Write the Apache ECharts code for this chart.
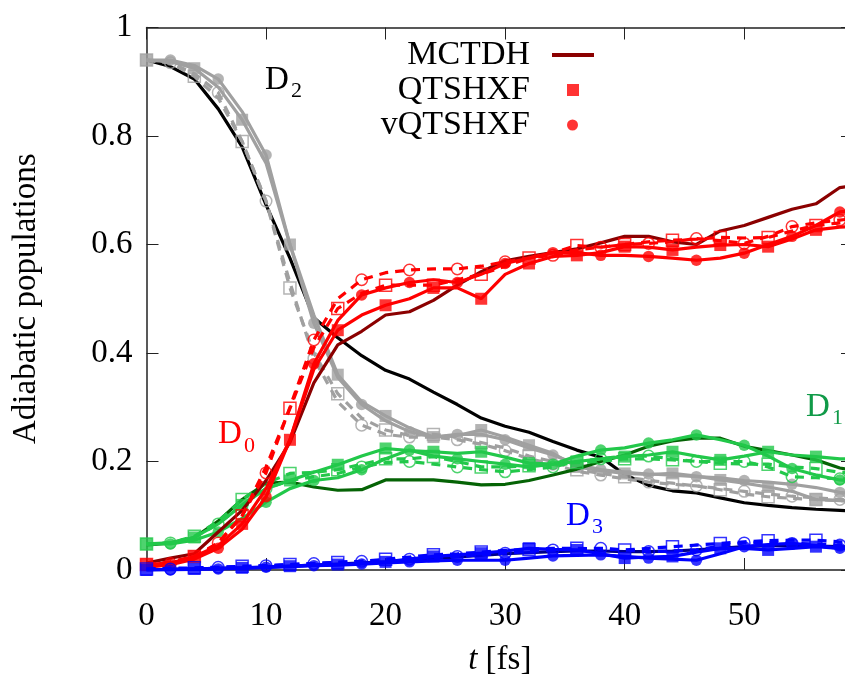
<!DOCTYPE html>
<html><head><meta charset="utf-8">
<script src="https://cdn.jsdelivr.net/npm/echarts@6/dist/echarts.min.js"></script>
<style>html,body{margin:0;padding:0;background:#fff;overflow:hidden}#c{width:845px;height:674px}</style>
</head><body><div id="c"></div>
<script>
// time grid (fs)
const T = [0,2,4,6,8,10,12,14,16,18,20,22,24,26,28,30,32,34,36,38,40,42,44,46,48,50,52,54,56,58,60];
const xTicks = [0,10,20,30,40,50];
const yTicks = [0,0.2,0.4,0.6,0.8,1];

// D2
const d2_mctdh = [.94,.928,.905,.85,.78,.673,.575,.465,.428,.395,.368,.352,.328,.305,.28,.265,.254,.237,.221,.208,.176,.156,.146,.142,.133,.124,.119,.115,.112,.11,.108];
const d2_qtsh  = [.94,.937,.925,.89,.83,.75,.60,.47,.36,.31,.284,.262,.245,.248,.258,.245,.23,.215,.19,.183,.178,.176,.178,.173,.166,.16,.153,.145,.13,.128,.125];
const d2_vqtsh = [.94,.94,.93,.905,.845,.765,.6,.455,.355,.305,.275,.255,.245,.25,.25,.24,.225,.212,.195,.185,.18,.177,.175,.172,.17,.165,.162,.158,.152,.143,.14];
const d2_qtsh_b  = [.94,.935,.91,.87,.79,.68,.52,.40,.325,.28,.258,.248,.25,.245,.235,.225,.21,.2,.185,.178,.172,.165,.16,.155,.148,.14,.135,.132,.13,.128,.127];
const d2_vqtsh_b = [.94,.935,.915,.88,.79,.68,.53,.39,.31,.267,.25,.245,.245,.24,.232,.22,.205,.195,.182,.175,.168,.162,.158,.155,.15,.145,.14,.136,.133,.13,.129];
// D0
const d0_mctdh = [.013,.022,.03,.07,.11,.165,.235,.345,.415,.44,.47,.476,.497,.525,.55,.57,.578,.585,.592,.603,.615,.615,.605,.6,.625,.635,.65,.665,.675,.705,.71];
const d0_qtsh  = [.01,.013,.025,.045,.085,.15,.24,.37,.442,.47,.488,.5,.52,.52,.50,.545,.565,.578,.58,.585,.596,.595,.59,.595,.599,.6,.596,.61,.627,.632,.635];
const d0_vqtsh = [.005,.01,.02,.04,.075,.135,.24,.38,.46,.507,.52,.53,.535,.53,.545,.565,.575,.585,.585,.58,.58,.578,.575,.571,.575,.584,.6,.615,.635,.66,.665];
const d0_qtsh_b  = [.01,.015,.025,.05,.1,.19,.298,.41,.482,.51,.525,.525,.525,.535,.545,.56,.575,.585,.598,.595,.6,.605,.608,.61,.613,.612,.613,.625,.635,.64,.645];
const d0_vqtsh_b = [.01,.012,.022,.05,.1,.179,.3,.424,.5,.535,.548,.553,.555,.555,.56,.568,.575,.58,.59,.595,.6,.602,.605,.611,.607,.602,.615,.633,.64,.645,.65];
// D1
const d1_mctdh = [.046,.05,.06,.09,.13,.16,.162,.153,.147,.148,.166,.166,.166,.162,.157,.158,.165,.175,.186,.2,.212,.228,.238,.243,.243,.228,.22,.212,.203,.188,.18];
const d1_qtsh  = [.048,.05,.06,.085,.12,.15,.165,.18,.194,.21,.224,.22,.218,.215,.218,.208,.197,.195,.2,.205,.209,.212,.218,.21,.203,.21,.218,.212,.209,.205,.205];
const d1_vqtsh = [.048,.048,.055,.07,.095,.125,.15,.165,.17,.185,.205,.221,.21,.205,.2,.195,.19,.195,.21,.221,.225,.234,.24,.249,.24,.23,.21,.187,.175,.166,.163];
const d1_qtsh_b  = [.048,.05,.062,.09,.13,.16,.178,.18,.185,.195,.205,.205,.209,.2,.19,.19,.192,.195,.198,.2,.205,.205,.203,.2,.197,.195,.195,.19,.187,.18,.178];
const d1_vqtsh_b = [.048,.05,.06,.085,.12,.15,.165,.172,.178,.19,.198,.2,.195,.19,.185,.181,.185,.19,.2,.205,.21,.21,.205,.2,.2,.2,.19,.172,.17,.168,.167];
// D3
const d3_mctdh = [0,.001,.002,.003,.004,.005,.007,.009,.011,.013,.015,.018,.021,.024,.027,.03,.032,.034,.035,.035,.034,.034,.035,.037,.04,.043,.045,.045,.044,.043,.042];
const d3_qtsh  = [0,.001,.002,.003,.004,.006,.007,.009,.01,.012,.015,.02,.025,.028,.031,.035,.04,.038,.037,.03,.022,.024,.025,.033,.04,.04,.037,.04,.043,.04,.04];
const d3_vqtsh = [0,0,.001,.002,.003,.005,.006,.008,.009,.011,.013,.015,.017,.018,.018,.018,.022,.026,.027,.028,.025,.022,.02,.018,.03,.043,.047,.049,.045,.04,.04];
const d3_qtsh_b  = [.002,.003,.004,.005,.007,.008,.01,.012,.014,.016,.02,.024,.028,.03,.033,.036,.038,.04,.04,.039,.037,.04,.043,.046,.049,.052,.054,.055,.055,.052,.05];
const d3_vqtsh_b = [.001,.002,.003,.005,.006,.008,.01,.012,.014,.016,.018,.02,.023,.025,.028,.031,.034,.037,.039,.04,.037,.034,.035,.037,.044,.05,.05,.049,.048,.046,.045];

const FONT = 'Liberation Serif, Times New Roman, serif';
const pts = a => a.map((v,i)=>[T[i], v]);
const marks = (a, parity) => a.map((v,i)=>[T[i], v]).filter((p,i)=> i%2===parity);

function line(name, data, color, dashed, z){
  return {type:'line', name, data: pts(data), showSymbol:false, symbol:'none', animation:false, silent:true, z,
    lineStyle:{color, width:3.2, type: dashed ? [9,7] : 'solid'}, clip:true};
}
function scat(name, data, color, shape, filled, z){
  const parity = shape === 'rect' ? 0 : 1;
  return {type:'scatter', name, data: marks(data, parity), symbol: shape, symbolSize: shape==='rect' ? 12 : 11.5,
    animation:false, silent:true, z, clip:false,
    itemStyle: filled ? {color} : {color:'rgba(0,0,0,0)', borderColor: color, borderWidth: 1.5}};
}
function state(tag, col, mcol, m, q, v, qb, vb, z, names){
  names = names || {};
  return [
    line(names.m || tag+' MCTDH', m, mcol, false, z),
    line(tag+' q', q, col, false, z+1),
    line(tag+' v', v, col, false, z+1),
    line(tag+' qb', qb, col, true, z+1),
    line(tag+' vb', vb, col, true, z+1),
    scat(names.q || tag+' qm', q, col, 'rect', true, z+2),
    scat(names.v || tag+' vm', v, col, 'circle', true, z+2),
    scat(tag+' qbm', qb, col, 'rect', false, z+2),
    scat(tag+' vbm', vb, col, 'circle', false, z+2)
  ];
}

const series = [].concat(
  state('D2', '#a0a0a0', '#000000', d2_mctdh, d2_qtsh, d2_vqtsh, d2_qtsh_b, d2_vqtsh_b, 2),
  state('D1', '#22c84a', '#056305', d1_mctdh, d1_qtsh, d1_vqtsh, d1_qtsh_b, d1_vqtsh_b, 6),
  state('D0', '#ff0000', '#8b0000', d0_mctdh, d0_qtsh, d0_vqtsh, d0_qtsh_b, d0_vqtsh_b, 10, {m:'MCTDH', q:'QTSHXF', v:'vQTSHXF'}),
  state('D3', '#0000ff', '#00008b', d3_mctdh, d3_qtsh, d3_vqtsh, d3_qtsh_b, d3_vqtsh_b, 14)
);

const axisCommon = {
  min:0, axisLine:{show:true, onZero:false, lineStyle:{color:'#222', width:1.5}},
  axisTick:{show:true, inside:true, length:12, lineStyle:{color:'#222', width:1}},
  splitLine:{show:false}
};
const legTxt = (pr) => ({fontFamily:FONT, fontSize:34, lineHeight:36, color:'#000', padding:[0,pr,0,0]});

const option = {
  backgroundColor:'#fff',
  animation:false,
  textStyle:{fontFamily:FONT},
  grid:{left:146.5, top:27.5, right:-8, bottom:104, outerBoundsMode:'none'},
  xAxis:[
    Object.assign({}, axisCommon, {type:'value', position:'bottom', max:59.1, interval:10,
      axisLabel:{fontFamily:FONT, fontSize:33, color:'#000', margin:30, formatter:v=> xTicks.includes(v)? String(v):''},
      name:'{i|t} {n|[fs]}', nameLocation:'middle', nameGap:74,
      nameTextStyle:{fontFamily:FONT, fontSize:33, color:'#000', rich:{
        i:{fontFamily:FONT, fontSize:33, fontStyle:'italic', color:'#000'},
        n:{fontFamily:FONT, fontSize:33, color:'#000'}}}}),
    Object.assign({}, axisCommon, {type:'value', position:'top', max:59.1, interval:10, axisLabel:{show:false}})
  ],
  yAxis:[
    Object.assign({}, axisCommon, {type:'value', max:1, interval:0.2,
      axisLabel:{fontFamily:FONT, fontSize:33, color:'#000', margin:14, formatter:v=> String(yTicks.find(t=>Math.abs(t-v)<1e-9) ?? '')},
      name:'Adiabatic populations', nameLocation:'middle', nameGap:104,
      nameTextStyle:{fontFamily:FONT, fontSize:33, color:'#000'}}),
    Object.assign({}, axisCommon, {type:'value', position:'right', max:1, interval:0.2, axisLabel:{show:false}})
  ],
  legend:[
    {data:[{name:'MCTDH', icon:'rect', itemStyle:{color:'#8b0000'}}], right:251, top:37, padding:0, itemWidth:42, itemHeight:4, align:'right', selectedMode:false, textStyle:legTxt(17)},
    {data:[{name:'QTSHXF', icon:'rect', itemStyle:{color:'#ff0000'}}], right:266, top:72, padding:0, itemWidth:12, itemHeight:12, align:'right', selectedMode:false, textStyle:legTxt(32)},
    {data:[{name:'vQTSHXF', icon:'circle', itemStyle:{color:'#ff0000'}}], right:267, top:107, padding:0, itemWidth:11, itemHeight:11, align:'right', selectedMode:false, textStyle:legTxt(32)}
  ],
  graphic:[
    {type:'text', x:265, y:80, z:100, style:{text:'D', fontFamily:FONT, fontSize:33, fill:'#000', verticalAlign:'middle'}},
    {type:'text', x:291, y:91, z:100, style:{text:'2', fontFamily:FONT, fontSize:22, fill:'#000', verticalAlign:'middle'}},
    {type:'text', x:218, y:434, z:100, style:{text:'D', fontFamily:FONT, fontSize:33, fill:'#ff0000', verticalAlign:'middle'}},
    {type:'text', x:244, y:446, z:100, style:{text:'0', fontFamily:FONT, fontSize:22, fill:'#ff0000', verticalAlign:'middle'}},
    {type:'text', x:806, y:407, z:100, style:{text:'D', fontFamily:FONT, fontSize:33, fill:'#109a48', verticalAlign:'middle'}},
    {type:'text', x:832, y:418, z:100, style:{text:'1', fontFamily:FONT, fontSize:22, fill:'#109a48', verticalAlign:'middle'}},
    {type:'text', x:566, y:516, z:100, style:{text:'D', fontFamily:FONT, fontSize:33, fill:'#0000ff', verticalAlign:'middle'}},
    {type:'text', x:592, y:527, z:100, style:{text:'3', fontFamily:FONT, fontSize:22, fill:'#0000ff', verticalAlign:'middle'}}
  ],
  series
};
const chart = echarts.init(document.getElementById('c'), null, {renderer:'canvas'});
chart.setOption(option);
</script></body></html>
